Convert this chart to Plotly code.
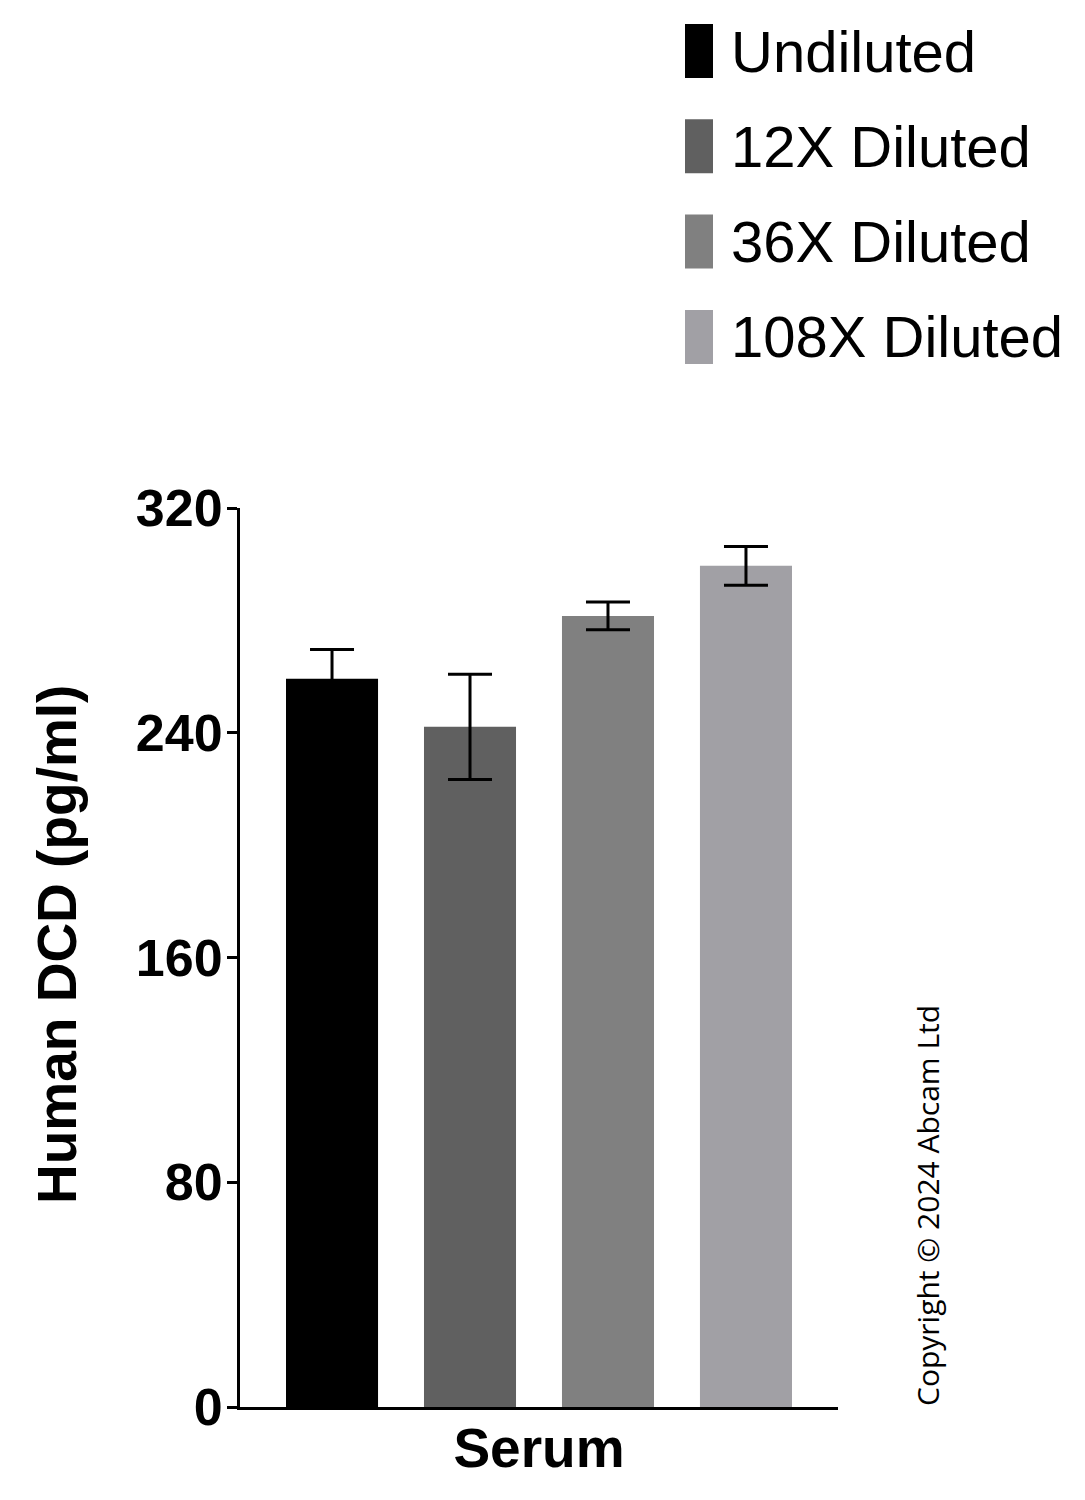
import plotly.graph_objects as go

category = ["Serum"]
series_names = ["Undiluted", "12X Diluted", "36X Diluted", "108X Diluted"]
values = [259.2, 242.1, 281.6, 299.4]
errors = [10.4, 18.7, 4.9, 6.9]
colors = ["#000000", "#606060", "#808080", "#a1a0a5"]
y_ticks = [0, 80, 160, 240, 320]
y_title = "Human DCD (pg/ml)"
x_title = "Serum"

W, H = 1085, 1500
OFF = 8  # default page body margin
PX0, PX1 = 240, 838   # plot area on screen (x)
PY0, PY1 = 508, 1407  # plot area on screen (y)
pw = PX1 - PX0
ph = PY1 - PY0
L = PX0 - OFF
T = PY0 - OFF
R = W - L - pw
B = H - T - ph

def px_x(px):
    return (px - PX0) / pw

def px_y(py):
    return (PY1 - py) / ph

fig = go.Figure()
for name, v, e, c in zip(series_names, values, errors, colors):
    fig.add_trace(go.Bar(
        x=category, y=[v], name=name,
        marker=dict(color=c, line=dict(width=0)),
        error_y=dict(type="data", array=[e], visible=True, color="black",
                     thickness=3, width=22),
        showlegend=False,
    ))

# manual legend
for i, (name, c) in enumerate(zip(series_names, colors)):
    cy = 51 + i * 95.3
    fig.add_shape(type="rect", xref="paper", yref="paper",
                  x0=px_x(685), x1=px_x(713), y0=px_y(cy - 27), y1=px_y(cy + 27),
                  fillcolor=c, line=dict(width=0))
    fig.add_annotation(xref="paper", yref="paper", x=px_x(729), y=px_y(cy),
                       text=name, showarrow=False, xanchor="left", yanchor="middle",
                       font=dict(family="Liberation Sans, Arial", size=58, color="black"))

fig.add_annotation(xref="paper", yref="paper", x=px_x(927), y=px_y(1206),
                   text="Copyright © 2024 Abcam Ltd", showarrow=False, textangle=-90,
                   xanchor="center", yanchor="middle",
                   font=dict(family="Open Sans, DejaVu Sans", size=30, color="black"))

# y-axis title
fig.add_annotation(xref="paper", yref="paper", x=px_x(57), y=px_y(945),
                   text="<b>" + y_title + "</b>", showarrow=False, textangle=-90,
                   xanchor="center", yanchor="middle",
                   font=dict(family="Liberation Sans, Arial", size=55, color="black"))

fig.update_layout(
    width=W, height=H,
    margin=dict(l=L, r=R, t=T, b=B),
    paper_bgcolor="white", plot_bgcolor="white",
    barmode="group", bargap=0.077, bargroupgap=0.333,
    font=dict(family="Liberation Sans, Arial", color="black"),
)
fig.update_yaxes(
    range=[0, 320], tickvals=y_ticks, ticktext=[str(t) for t in y_ticks],
    showline=True, linecolor="black", linewidth=3,
    ticks="outside", ticklen=10, tickwidth=3, tickcolor="black",
    ticklabelstandoff=-6,
    showgrid=False, zeroline=False,
    tickfont=dict(family="Liberation Sans, Arial", size=52, color="black", weight="bold"),
)
fig.update_xaxes(
    showline=True, linecolor="black", linewidth=3,
    ticks="", showticklabels=False, showgrid=False, zeroline=False,
    title=dict(text="<b>" + x_title + "</b>", standoff=20,
               font=dict(family="Liberation Sans, Arial", size=55, color="black")),
)

fig.write_html("out.html")
